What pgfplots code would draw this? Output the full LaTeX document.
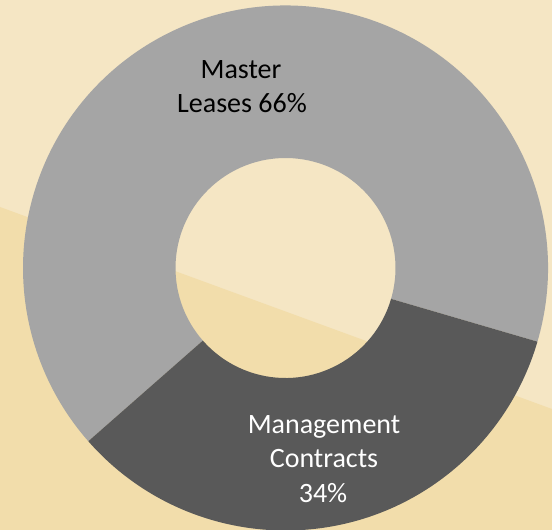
\documentclass[border=0pt]{standalone}
\usepackage{pgfplots}
\usepackage{pgfplotstable}
\pgfplotsset{compat=1.18}
\usetikzlibrary{calc}
\usepackage{fontspec}
\setmainfont{Carlito}
\definecolor{bglight}{RGB}{245,230,196}
\definecolor{bgdark}{RGB}{242,221,171}
\definecolor{leasecol}{RGB}{165,165,165}
\definecolor{mgmtcol}{RGB}{89,89,89}
\tikzset{lbl/.style={anchor=base, inner sep=0pt, font=\fontsize{28bp}{34bp}\selectfont}}

\pgfplotstableread{
label value
Master 66
Management 34
}\sharetable
\pgfplotstablegetelem{0}{value}\of\sharetable \let\valA\pgfplotsretval
\pgfplotstablegetelem{1}{value}\of\sharetable \let\valB\pgfplotsretval
% slice angles, start rotated so the split sits where it does in the source
\pgfmathsetmacro{\startA}{-16.3}
\pgfmathsetmacro{\endA}{\startA+3.6*\valA}
\pgfmathsetmacro{\endB}{\endA+3.6*\valB}
\def\Rout{262.5bp}
\def\Rin{110bp}

\begin{document}
\begin{tikzpicture}
\begin{axis}[
    at={(0,0)}, anchor=south west,
    width=552bp, height=530bp,
    scale only axis,
    xmin=0, xmax=552, ymin=0, ymax=530,
    enlargelimits=false,
    hide axis,
    clip=true,
]
% background
\fill[bglight] (axis cs:0,0) rectangle (axis cs:552,530);
\fill[bgdark] (axis cs:0,323) -- (axis cs:552,121) -- (axis cs:552,0) -- (axis cs:0,0) -- cycle;
% donut slices (overlay: arc control points must not grow the bounding box)
\fill[leasecol, overlay] (axis cs:285.5,262) ++(\startA:\Rout) arc[start angle=\startA, end angle=\endA, radius=\Rout]
    -- ($(axis cs:285.5,262)+(\endA:\Rin)$) arc[start angle=\endA, end angle=\startA, radius=\Rin] -- cycle;
\fill[mgmtcol, overlay] (axis cs:285.5,262) ++(\endA:\Rout) arc[start angle=\endA, end angle=\endB, radius=\Rout]
    -- ($(axis cs:285.5,262)+(\endB:\Rin)$) arc[start angle=\endB, end angle=\endA, radius=\Rin] -- cycle;
% labels
\node[lbl] at (axis cs:241,451) {Master};
\node[lbl] at (axis cs:242,417) {Leases \valA\%};
\node[lbl, text=white] at (axis cs:324,97) {Management};
\node[lbl, text=white] at (axis cs:324,63) {Contracts};
\node[lbl, text=white] at (axis cs:323,28) {\valB\%};
\end{axis}
\pgfresetboundingbox
\path[use as bounding box] (0,0) rectangle (552bp,530bp);
\end{tikzpicture}
\end{document}
